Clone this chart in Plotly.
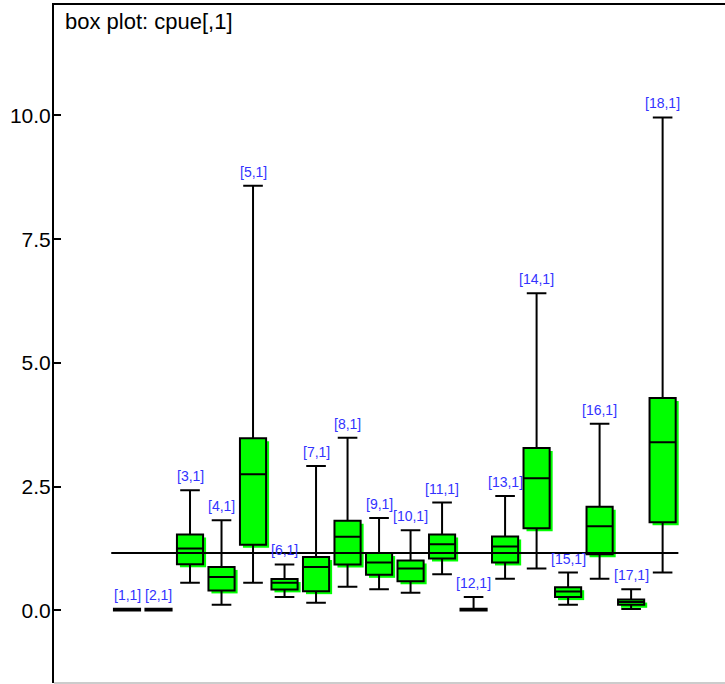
import plotly.graph_objects as go

# Summary statistics of cpue[,1] for each of the 18 nodes
positions = list(range(1, 19))
node_labels = [f"[{i},1]" for i in positions]
lower_whisker = [0.0, 0.0, 0.56, 0.115, 0.56, 0.27, 0.155, 0.48, 0.43, 0.36,
                 0.73, 0.0, 0.64, 0.85, 0.115, 0.64, 0.03, 0.765]
q1_values = [0.0, 0.0, 0.933, 0.405, 1.33, 0.426, 0.39, 0.93, 0.72, 0.59,
             1.05, 0.0, 0.97, 1.66, 0.27, 1.135, 0.115, 1.78]
median_values = [0.01, 0.01, 1.25, 0.675, 2.75, 0.56, 0.88, 1.49, 0.97, 0.85,
                 1.34, 0.01, 1.29, 2.67, 0.385, 1.70, 0.17, 3.40]
q3_values = [0.035, 0.035, 1.535, 0.88, 3.48, 0.635, 1.08, 1.81, 1.16, 1.01,
             1.535, 0.035, 1.495, 3.28, 0.47, 2.095, 0.22, 4.29]
upper_whisker = [0.035, 0.035, 2.43, 1.82, 8.58, 0.93, 2.92, 3.49, 1.87, 1.62,
                 2.18, 0.27, 2.31, 6.41, 0.765, 3.77, 0.43, 9.96]
overall_mean = 1.16
ref_span = [0.5, 18.5]
y_ticks = [0.0, 2.5, 5.0, 7.5, 10.0]
y_tick_text = ["0.0", "2.5", "5.0", "7.5", "10.0"]

WIDTH, HEIGHT = 725, 684
MARGIN = dict(l=54, r=0, t=5, b=1)
X_RANGE = [-1.317, 19.98]
Y_RANGE = [-1.465, 12.23]
BOX_W = 0.83
GREEN = "#00ff00"

plot_h = HEIGHT - MARGIN["t"] - MARGIN["b"]
plot_w = WIDTH - MARGIN["l"] - MARGIN["r"]
px_y = (Y_RANGE[1] - Y_RANGE[0]) / plot_h  # data units per pixel (y)
px_x = (X_RANGE[1] - X_RANGE[0]) / plot_w  # data units per pixel (x)

fig = go.Figure()

# horizontal line at the overall mean
fig.add_trace(go.Scatter(
    x=ref_span, y=[overall_mean, overall_mean], mode="lines",
    line=dict(color="black", width=2), hoverinfo="skip", showlegend=False,
))

fig.add_trace(go.Box(
    x=positions, q1=q1_values, median=median_values, q3=q3_values,
    lowerfence=lower_whisker, upperfence=upper_whisker,
    width=BOX_W, whiskerwidth=0.75, boxpoints=False,
    fillcolor=GREEN, line=dict(color="black", width=2),
    showlegend=False,
))

# green drop shadow behind each box (collapsed boxes get none)
shift = 3
shapes = []
for xi, lo, hi in zip(positions, q1_values, q3_values):
    if hi - lo < 0.05:
        continue
    shapes.append(dict(
        type="rect", xref="x", yref="y", layer="below",
        x0=xi - BOX_W / 2 + shift * px_x, x1=xi + BOX_W / 2 + shift * px_x,
        y0=lo - shift * px_y, y1=hi - shift * px_y,
        fillcolor=GREEN, line=dict(width=0),
    ))
# light frame line along the bottom
shapes.append(dict(type="line", xref="paper", yref="paper", x0=0, x1=1, y0=0, y1=0,
                   line=dict(color="#cccccc", width=2)))

annotations = []
for xi, top, lab in zip(positions, upper_whisker, node_labels):
    annotations.append(dict(
        x=xi, y=top, xref="x", yref="y", text=lab, showarrow=False,
        yanchor="bottom", yshift=4,
        font=dict(family="Liberation Sans, Arial", size=14, color="#3333ff"),
    ))
annotations.append(dict(
    x=0, y=1, xref="paper", yref="paper", xanchor="left", yanchor="top",
    xshift=9, yshift=-2, text="box plot: cpue[,1]", showarrow=False,
    font=dict(family="Liberation Sans, Arial", size=22, color="black"),
))

fig.update_layout(
    width=WIDTH, height=HEIGHT, margin=MARGIN,
    paper_bgcolor="white", plot_bgcolor="white",
    shapes=shapes, annotations=annotations,
    xaxis=dict(range=X_RANGE, showgrid=False, zeroline=False, showticklabels=False,
               ticks="", showline=True, side="top", linecolor="black", linewidth=2),
    yaxis=dict(range=Y_RANGE, tickvals=y_ticks, ticktext=y_tick_text,
               showgrid=False, zeroline=False, showline=True, linecolor="black",
               linewidth=2, ticks="inside", ticklen=7, tickwidth=2, tickcolor="black",
               ticklabelstandoff=-3,
               tickfont=dict(family="Liberation Sans, Arial", size=21, color="black")),
    font=dict(family="Liberation Sans, Arial"),
)

fig.write_html("out.html")
